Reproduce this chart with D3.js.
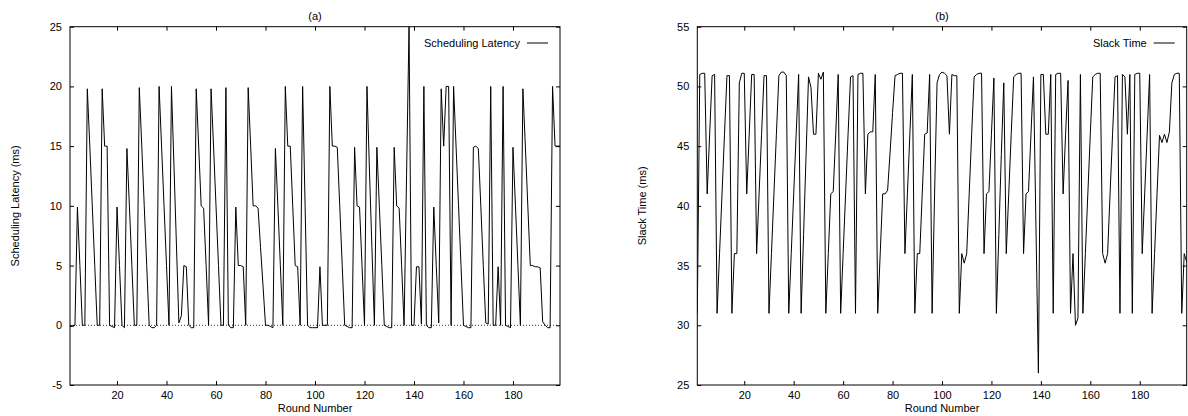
<!DOCTYPE html>
<html>
<head>
<meta charset="utf-8">
<script src="https://cdn.jsdelivr.net/npm/d3@7"></script>
<style>
  html, body { margin: 0; padding: 0; background: #fff; }
  svg { display: block; }
  text { font-family: "Liberation Sans", Arial, Helvetica, sans-serif; fill: #000; }
</style>
</head>
<body>
<svg id="chart" width="1188" height="416"></svg>
<script>
// ---------------- data ----------------
const rounds = d3.range(1, 200); // round numbers 1..199

const schedulingLatency = [
  -0.1, -0.1, 0, 9.9, 5, 0, 0, 19.8, 15, 10,
  5, 0, 0, 19.8, 15, 15, 0, -0.1, -0.2, 9.9,
  5, 0, -0.2, 14.8, 10, 5, 0, 0, 19.9, 15,
  10, 5, 0, -0.2, -0.2, 0, 20, 15, 10, 5,
  0, 20, 13.4, 6.8, 0.2, 0.8, 5, 4.9, 0, -0.2,
  -0.2, 19.8, 15, 10, 9.8, 5, 0, 19.8, 15, 10,
  5, 0, 0, 19.9, 0, -0.2, -0.2, 9.9, 5, 5,
  4.9, 0, 19.9, 15, 10, 10, 9.8, 6.5, 3.3, 0,
  0, -0.1, -0.2, 14.8, 10, 5, 0, 20, 15, 15,
  10, 5, 4.9, 0, 20, 10, 0, -0.2, -0.2, -0.2,
  -0.2, 4.9, 0, 0, 0, 20, 15, 15, 14.9, 10,
  5, 0, -0.1, -0.2, -0.2, 14.9, 10, 9.9, 5, 0,
  20, 13, 6.5, 0, 14.9, 10, 5, 0, -0.1, -0.2,
  -0.2, 14.9, 10, 9.8, 5, 0, 12.6, 25, 0, 0,
  4.9, 4.9, 0.1, 20, 0, -0.2, -0.2, 9.9, 5, 0.2,
  19.8, 15, 20, 20, 0, 20, 15, 10, 5, 0,
  -0.1, -0.2, -0.2, 14.9, 15, 14.8, 10, 5, 0.2, 0.1,
  20, 0, 0, 4.9, 0, 20, 0, -0.1, -0.2, 14.9,
  10, 5, 0, 19.8, 15, 10, 5, 5, 4.9, 4.9,
  4.8, 0.3, 0, -0.2, -0.2, 20, 15, 15, 15
];

const slackTime = [
  31, 51, 51.1, 51.1, 41, 46, 50.9, 51, 31, 36,
  41, 46, 50.9, 50.9, 31, 36, 36, 50.3, 51.1, 51.1,
  41, 46, 51, 51, 36, 41, 46, 50.9, 50.9, 31,
  36, 41, 46, 50.9, 51.2, 51.2, 50.9, 31, 36, 41,
  46, 51, 31, 37.6, 44.2, 50.8, 49.9, 46, 46, 51.1,
  50.6, 51.2, 31, 36, 41, 41.2, 46, 51, 31, 36,
  41, 46, 50.8, 50.9, 31, 51, 51.1, 51.1, 41, 46,
  46.2, 46.2, 51, 31, 36, 41, 41, 41.3, 44.5, 47.8,
  50.9, 51, 51.1, 51.1, 36, 41, 46, 51, 31, 36,
  36, 41, 46, 46.1, 51, 31, 41, 50.3, 51, 51.2,
  51.1, 50.9, 46, 51, 50.9, 50.9, 31, 36, 35.2, 36,
  41, 46, 50.8, 51, 51.1, 51.1, 36, 41, 41.2, 46,
  50.7, 31, 37.6, 44.3, 50.3, 36, 41, 46, 50.8, 51,
  51.1, 51.1, 36, 41, 41.2, 46, 50.8, 38.4, 26, 51,
  51, 46, 46, 51, 31, 51, 51.1, 51.1, 41, 46,
  50.5, 31, 36, 30, 30.6, 51, 31, 36, 41, 46,
  50.8, 51, 51.1, 51.1, 36, 35.2, 36, 41, 46, 50.8,
  50.9, 31, 51, 50.8, 46, 51, 31, 51, 51.1, 51.1,
  36, 41, 46, 51, 31, 36, 41, 45.9, 45.3, 46,
  45.3, 46.2, 50.3, 51, 51.1, 51.1, 31, 36, 35.3
];

const xTicks = [20, 40, 60, 80, 100, 120, 140, 160, 180];
const latencyTicks = [-5, 0, 5, 10, 15, 20, 25];
const slackTicks = [25, 30, 35, 40, 45, 50, 55];

// ---------------- drawing ----------------
const svg = d3.select("#chart");
svg.append("rect").attr("width", 1188).attr("height", 416).attr("fill", "#fff");

const panels = [
  { id: "a", title: "(a)", left: 70, right: 560, top: 26.7, bottom: 385,
    yDomain: [-5, 25], yTicks: latencyTicks, values: schedulingLatency,
    yLabel: "Scheduling Latency (ms)", yLabelX: 15, legend: "Scheduling Latency", zeroLine: true },
  { id: "b", title: "(b)", left: 697.3, right: 1186.7, top: 26.7, bottom: 385,
    yDomain: [25, 55], yTicks: slackTicks, values: slackTime,
    yLabel: "Slack Time (ms)", yLabelX: 642, legend: "Slack Time", zeroLine: false }
];

const plainFmt = d => String(d); // hyphen-minus like the original

panels.forEach(p => {
  const x = d3.scaleLinear().domain([1, 199]).range([p.left, p.right]);
  const y = d3.scaleLinear().domain(p.yDomain).range([p.bottom, p.top]);
  const g = svg.append("g");
  const fs = "11px";

  // axes (inward ticks, mirrored)
  const ax = [
    { a: d3.axisBottom(x).tickValues(xTicks).tickFormat(plainFmt).tickSizeInner(-4).tickSizeOuter(0).tickPadding(6), t: `translate(0,${p.bottom})` },
    { a: d3.axisTop(x).tickValues(xTicks).tickSizeInner(-4).tickSizeOuter(0).tickFormat(""), t: `translate(0,${p.top})` },
    { a: d3.axisLeft(y).tickValues(p.yTicks).tickFormat(plainFmt).tickSizeInner(-4).tickSizeOuter(0).tickPadding(8), t: `translate(${p.left},0)` },
    { a: d3.axisRight(y).tickValues(p.yTicks).tickSizeInner(-4).tickSizeOuter(0).tickFormat(""), t: `translate(${p.right},0)` }
  ];
  ax.forEach(o => {
    const ag = g.append("g").attr("transform", o.t).call(o.a);
    ag.select(".domain").remove();
    ag.selectAll(".tick line").attr("stroke", "#000").attr("stroke-width", 1);
    ag.selectAll(".tick text").style("font-size", fs)
      .style("font-family", '"Liberation Sans", Arial, sans-serif').attr("fill", "#000");
  });

  // zero axis (dotted)
  if (p.zeroLine) {
    g.append("line")
      .attr("x1", p.left).attr("x2", p.right)
      .attr("y1", y(0)).attr("y2", y(0))
      .attr("stroke", "#000").attr("stroke-width", 0.8)
      .attr("stroke-dasharray", "1,2");
  }

  // clip + data line
  const clipId = "clip-" + p.id;
  svg.append("clipPath").attr("id", clipId).append("rect")
    .attr("x", p.left).attr("y", p.top)
    .attr("width", p.right - p.left).attr("height", p.bottom - p.top);

  const line = d3.line().x((d, i) => x(rounds[i])).y(d => y(d));
  g.append("path").datum(p.values)
    .attr("clip-path", `url(#${clipId})`)
    .attr("fill", "none").attr("stroke", "#000").attr("stroke-width", 1)
    .attr("stroke-linejoin", "miter")
    .attr("d", line);

  // border
  g.append("rect")
    .attr("x", p.left).attr("y", p.top)
    .attr("width", p.right - p.left).attr("height", p.bottom - p.top)
    .attr("fill", "none").attr("stroke", "#000").attr("stroke-width", 1);

  // title
  g.append("text").attr("x", (p.left + p.right) / 2).attr("y", 20)
    .attr("text-anchor", "middle").style("font-size", fs).text(p.title);

  // x label
  g.append("text").attr("x", (p.left + p.right) / 2).attr("y", 412)
    .attr("text-anchor", "middle").style("font-size", fs).text("Round Number");

  // y label
  const cy = (p.top + p.bottom) / 2;
  g.append("text")
    .attr("transform", `translate(${p.yLabelX + 4},${cy}) rotate(-90)`)
    .attr("text-anchor", "middle").style("font-size", fs).text(p.yLabel);

  // legend
  const lx2 = p.right - 12, lx1 = lx2 - 21, ly = 43;
  g.append("text").attr("x", lx1 - 7).attr("y", ly + 4)
    .attr("text-anchor", "end").style("font-size", fs).text(p.legend);
  g.append("line").attr("x1", lx1).attr("x2", lx2).attr("y1", ly).attr("y2", ly)
    .attr("stroke", "#000").attr("stroke-width", 1);
});
</script>
</body>
</html>
